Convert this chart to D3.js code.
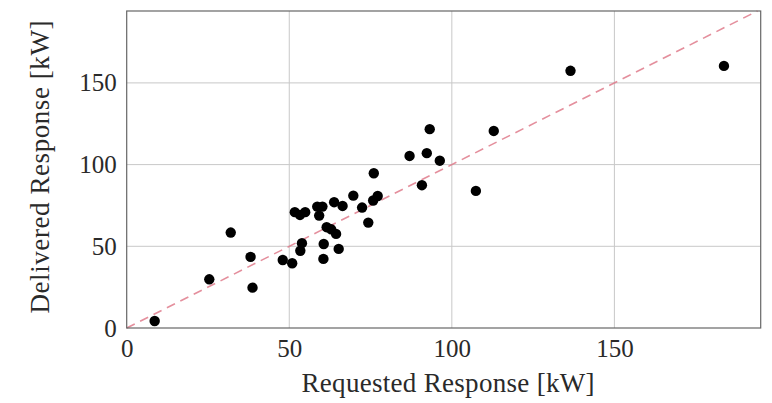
<!DOCTYPE html>
<html>
<head>
<meta charset="utf-8">
<script src="https://cdn.jsdelivr.net/npm/d3@7"></script>
<style>
  html, body { margin: 0; padding: 0; background: #fff; }
  svg { display: block; }
  text { font-family: "Liberation Serif", "DejaVu Serif", serif; fill: #2a2a2a; }
</style>
</head>
<body>
<svg id="chart" width="772" height="403"></svg>
<script>
// Data: requested vs delivered response [kW]
const requested = [8.6, 25.4, 32.0, 38.1, 38.7, 48.0, 50.9, 51.7, 53.3, 54.9, 53.9, 53.4,
  58.6, 60.2, 59.2, 61.5, 62.9, 64.4, 60.6, 60.5, 65.2, 63.8, 66.4, 69.7, 72.4, 74.3,
  75.8, 77.2, 76.0, 90.8, 87.0, 92.3, 93.2, 96.3, 112.9, 107.4, 136.5, 183.7];
const delivered = [4.3, 29.8, 58.4, 43.5, 24.7, 41.6, 39.6, 70.9, 69.2, 70.9, 51.9, 47.3,
  74.3, 74.3, 68.8, 61.7, 60.4, 57.6, 51.4, 42.3, 48.4, 77.0, 74.7, 81.0, 73.7, 64.5,
  78.0, 80.8, 94.7, 87.4, 105.3, 107.0, 121.7, 102.4, 120.6, 83.9, 157.4, 160.4];
const xTicks = [0, 50, 100, 150];
const yTicks = [0, 50, 100, 150];
const xLabel = "Requested Response [kW]";
const yLabel = "Delivered Response [kW]";
const xDomain = [0, 195];
const yDomain = [0, 194];

(function () {
const svg = d3.select("#chart");
const pL = 126.7, pR = 760.7, pT = 11, pB = 328;

const x = d3.scaleLinear().domain(xDomain).range([pL, pR]);
const y = d3.scaleLinear().domain(yDomain).range([pB, pT]);

// grid
const grid = svg.append("g");
grid.selectAll(".gx").data(xTicks.filter(d => d > 0)).join("line")
  .attr("x1", d => x(d)).attr("x2", d => x(d))
  .attr("y1", pT).attr("y2", pB)
  .attr("stroke", "#c8c8c8").attr("stroke-width", 1);
grid.selectAll(".gy").data(yTicks.filter(d => d > 0)).join("line")
  .attr("y1", d => y(d)).attr("y2", d => y(d))
  .attr("x1", pL).attr("x2", pR)
  .attr("stroke", "#c8c8c8").attr("stroke-width", 1);

// diagonal y = x
const maxV = Math.min(xDomain[1], yDomain[1]);
svg.append("line")
  .attr("x1", x(0)).attr("y1", y(0))
  .attr("x2", x(maxV)).attr("y2", y(maxV))
  .attr("stroke", "#e07c8c").attr("stroke-width", 1.6)
  .attr("stroke-dasharray", "9,6").attr("opacity", 0.85);

// frame
svg.append("rect")
  .attr("x", pL).attr("y", pT)
  .attr("width", pR - pL).attr("height", pB - pT)
  .attr("fill", "none").attr("stroke", "#666").attr("stroke-width", 1.2);

// axes
const xAxis = d3.axisBottom(x).tickValues(xTicks).tickSize(0).tickPadding(11);
const yAxis = d3.axisLeft(y).tickValues(yTicks).tickSize(0).tickPadding(10);
const gx = svg.append("g").attr("transform", `translate(0,${pB})`).call(xAxis);
const gy = svg.append("g").attr("transform", `translate(${pL},0)`).call(yAxis);
[gx, gy].forEach(g => {
  g.select(".domain").remove();
  g.selectAll("text").style("font-size", "25px")
    .style("font-family", '"Liberation Serif", "DejaVu Serif", serif').attr("fill", "#2a2a2a");
});

// points
svg.append("g").selectAll("circle")
  .data(requested.map((r, i) => [r, delivered[i]]))
  .join("circle")
  .attr("cx", d => x(d[0])).attr("cy", d => y(d[1]))
  .attr("r", 5.2).attr("fill", "#000");

// labels
svg.append("text")
  .attr("x", 448).attr("y", 392)
  .attr("text-anchor", "middle").style("font-size", "27px")
  .attr("textLength", 293).attr("lengthAdjust", "spacing")
  .text(xLabel);
svg.append("text")
  .attr("transform", `translate(49,167) rotate(-90)`)
  .attr("text-anchor", "middle").style("font-size", "27px")
  .attr("textLength", 293).attr("lengthAdjust", "spacing")
  .text(yLabel);
})();
</script>
</body>
</html>
